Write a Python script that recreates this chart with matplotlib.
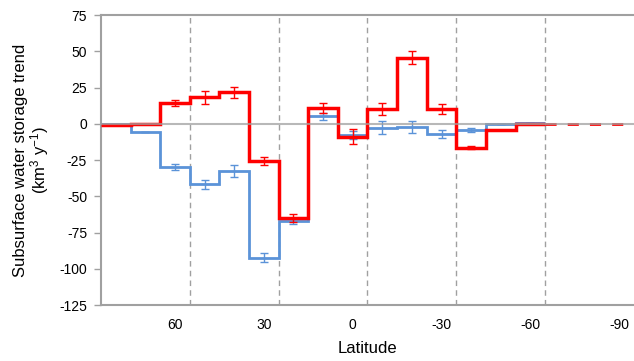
import matplotlib
matplotlib.use("Agg")
import matplotlib.pyplot as plt

plt.rcParams["font.family"] = ["Liberation Sans", "DejaVu Sans"]
plt.rcParams["axes.unicode_minus"] = False
plt.rcParams["mathtext.default"] = "regular"

# latitude bin edges (10 degree bins, north to south)
lat_edges = [90, 80, 70, 60, 50, 40, 30, 20, 10, 0, -10, -20, -30, -40, -50, -60]
lat_centers = [85, 75, 65, 55, 45, 35, 25, 15, 5, -5, -15, -25, -35, -45, -55]

red_vals = [-1, -0.5, 14.5, 18.4, 21.7, -25.7, -64.8, 10.9, -8.9, 10.2, 45.6, 10.2, -16.5, -4.3, -0.3]
red_err = [0, 0, 2.2, 4.5, 4.0, 2.9, 2.9, 3.5, 5.0, 4.2, 4.6, 3.3, 1.0, 0, 0]

blue_vals = [-0.5, -5.5, -30, -41.8, -32.6, -92.4, -67, 5.1, -7.8, -2.8, -2.0, -7.3, -4.1, -0.5, 0.8]
blue_err = [0, 0, 2.0, 3.3, 3.9, 3.2, 2.0, 2.5, 2.5, 4.6, 4.2, 2.8, 1.5, 0, 0]

tail_edges = [-60, -90]
tail_vals = [0, 0]

tick_pos = [65, 35, 5, -25, -55, -85]
tick_labels = ["60", "30", "0", "-30", "-60", "-90"]
dashed_lats = [60, 30, 0, -30, -60]

RED = "#ff0000"
BLUE = "#5b93d8"
GRID = "#a0a0a0"

fig = plt.figure(figsize=(6.34, 3.61), dpi=100)
ax = fig.add_axes([0.1593, 0.1551, 0.8407, 0.8033])

for lat in dashed_lats:
    ax.axvline(lat, color=GRID, linestyle=(0, (4, 3)), linewidth=1, zorder=1)

def step_series(vals, color, lw, z):
    ax.stairs(vals, lat_edges, color=color, linewidth=lw, baseline=None, zorder=z)

step_series(blue_vals, BLUE, 2.0, 3)
ax.errorbar(lat_centers, blue_vals, yerr=blue_err, fmt="none", ecolor=BLUE,
            elinewidth=1, capsize=3, capthick=1, zorder=3)
step_series(red_vals, RED, 2.5, 4)
ax.errorbar(lat_centers, red_vals, yerr=red_err, fmt="none", ecolor=RED,
            elinewidth=1, capsize=3, capthick=1, zorder=4)
ax.plot(tail_edges, tail_vals, color=RED, linewidth=2, linestyle=(0, (4, 4)), zorder=4)
ax.axhline(0, color=GRID, linewidth=1.5, alpha=0.75, zorder=5)

ax.set_xlim(90, -90)
ax.set_ylim(-125, 75)
ax.set_yticks(range(-125, 76, 25))
ax.set_xticks(tick_pos)
ax.set_xticklabels(tick_labels)
ax.tick_params(axis="x", length=0, pad=9, labelsize=10)
ax.tick_params(axis="y", length=5, color=GRID, width=1, labelsize=10, pad=5)

ax.spines["right"].set_visible(False)
for side in ["left", "bottom", "top"]:
    ax.spines[side].set_color(GRID)
    ax.spines[side].set_linewidth(1.5)

ax.set_xlabel("Latitude", fontsize=12, labelpad=7)
ax.set_ylabel("Subsurface water storage trend\n(km$^{3}$ y$^{-1}$)", fontsize=12,
              labelpad=6, linespacing=1.0)

fig.savefig("out.png", dpi=100)
